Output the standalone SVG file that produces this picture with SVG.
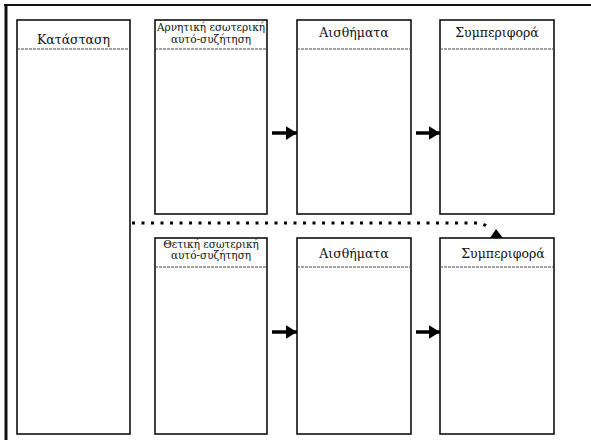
<svg xmlns="http://www.w3.org/2000/svg" width="591" height="440" viewBox="0 0 591 440">
<style>
.box{fill:#fff;stroke:#111;stroke-width:1.6}
.hdr{stroke:#444;stroke-width:1.2;stroke-dasharray:3 1}
text{fill:#111;text-anchor:middle}
.t{font-size:12.5px}
.s{font-size:10.5px}
.arr{stroke:#000;stroke-width:3.5;fill:none}
</style>
<defs>
<marker id="ah" markerWidth="4" markerHeight="4" refX="3.2" refY="2" orient="auto" markerUnits="strokeWidth">
<path d="M0,0 L3.2,2 L0,4 Z" fill="#000"/>
</marker>
</defs>
<rect width="591" height="440" fill="#fff"/>
<g id="frame">
<line x1="4" y1="5" x2="591" y2="5" stroke="#111" stroke-width="2"/>
<line x1="6" y1="4" x2="6" y2="440" stroke="#111" stroke-width="3"/>
</g>
<g id="nodes" font-family="'DejaVu Serif', 'Liberation Serif', serif">
<g id="n-katastasi">
<rect class="box" x="17" y="20" width="113" height="414"/>
<line class="hdr" x1="17" y1="49" x2="130" y2="49"/>
<text class="t" x="73.5" y="44">Κατάσταση</text>
</g>
<g id="n-arnitiki">
<rect class="box" x="155" y="20" width="112" height="194"/>
<line class="hdr" x1="155" y1="49" x2="267" y2="49"/>
<text class="s" x="211" y="31">Αρνητική εσωτερική</text>
<text class="s" x="211" y="43">αυτό-συζήτηση</text>
</g>
<g id="n-aisthimata1">
<rect class="box" x="297" y="20" width="114" height="194"/>
<line class="hdr" x1="297" y1="49" x2="411" y2="49"/>
<text class="t" x="354" y="37">Αισθήματα</text>
</g>
<g id="n-symperifora1">
<rect class="box" x="440" y="20" width="114" height="194"/>
<line class="hdr" x1="440" y1="49" x2="554" y2="49"/>
<text class="t" x="497" y="37">Συμπεριφορά</text>
</g>
<g id="n-thetiki">
<rect class="box" x="155" y="238" width="112" height="196"/>
<line class="hdr" x1="155" y1="267" x2="267" y2="267"/>
<text class="s" x="211" y="248">Θετική εσωτερική</text>
<text class="s" x="211" y="259">αυτό-συζήτηση</text>
</g>
<g id="n-aisthimata2">
<rect class="box" x="297" y="238" width="114" height="196"/>
<line class="hdr" x1="297" y1="267" x2="411" y2="267"/>
<text class="t" x="354" y="258">Αισθήματα</text>
</g>
<g id="n-symperifora2">
<rect class="box" x="440" y="238" width="114" height="196"/>
<line class="hdr" x1="440" y1="267" x2="554" y2="267"/>
<text class="t" x="503" y="258">Συμπεριφορά</text>
</g>
</g>
<g id="connectors">
<line class="arr" x1="272" y1="133" x2="297" y2="133" marker-end="url(#ah)"/>
<line class="arr" x1="416" y1="133" x2="440" y2="133" marker-end="url(#ah)"/>
<line class="arr" x1="272" y1="332" x2="297" y2="332" marker-end="url(#ah)"/>
<line class="arr" x1="416" y1="332" x2="440" y2="332" marker-end="url(#ah)"/>
<path d="M132,223 L478,223 Q486,224 491,230" fill="none" stroke="#000" stroke-width="3.2" stroke-dasharray="3 6.5"/>
<polygon points="490,238 503,238 496,229" fill="#000"/>
</g>
</svg>
